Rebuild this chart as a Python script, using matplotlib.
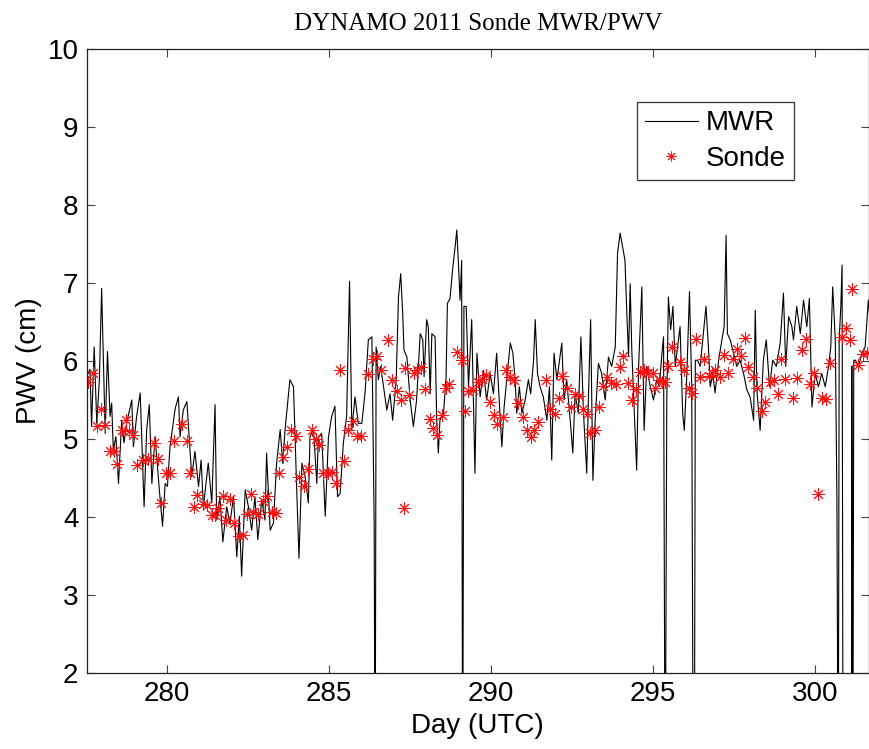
import matplotlib
matplotlib.use("Agg")
import matplotlib.pyplot as plt
import numpy as np

plt.rcParams['font.family'] = ['Liberation Sans', 'DejaVu Sans']

# ---------------- data ----------------
mwr_day = [
    277.53, 277.63, 277.68, 277.76, 277.84, 277.92, 277.99, 278.10, 278.17, 278.25,
    278.30, 278.35, 278.43, 278.51, 278.61, 278.68, 278.76, 278.92, 278.97, 279.07,
    279.18, 279.30, 279.38, 279.46, 279.54, 279.64, 279.77, 279.87, 279.95, 280.02,
    280.10, 280.26, 280.36, 280.41, 280.51, 280.62, 280.77, 280.87, 280.98, 281.06,
    281.13, 281.28, 281.39, 281.49, 281.54, 281.64, 281.73, 281.85, 281.95, 282.06,
    282.16, 282.24, 282.31, 282.42, 282.52, 282.62, 282.72, 282.81, 282.93, 283.03,
    283.08, 283.19, 283.29, 283.39, 283.50, 283.58, 283.65, 283.80, 283.91, 283.96,
    284.01, 284.08, 284.17, 284.27, 284.37, 284.42, 284.53, 284.63, 284.68, 284.78,
    284.89, 284.99, 285.09, 285.19, 285.27, 285.35, 285.45, 285.55, 285.64, 285.71,
    285.81, 285.91, 286.02, 286.12, 286.22, 286.33, 286.40, 286.43, 286.46, 286.53,
    286.60, 286.69, 286.79, 286.89, 286.97, 287.08, 287.15, 287.22, 287.28, 287.32,
    287.41, 287.51, 287.61, 287.71, 287.82, 287.90, 287.94, 288.02, 288.07, 288.13,
    288.18, 288.28, 288.33, 288.38, 288.43, 288.54, 288.62, 288.66, 288.74, 288.83,
    288.90, 288.95, 289.00, 289.05, 289.10, 289.13, 289.17, 289.24, 289.31, 289.41,
    289.51, 289.57, 289.67, 289.77, 289.87, 289.98, 290.08, 290.18, 290.27, 290.34,
    290.41, 290.49, 290.60, 290.68, 290.75, 290.80, 290.88, 290.96, 291.06, 291.16,
    291.23, 291.32, 291.37, 291.44, 291.52, 291.62, 291.73, 291.81, 291.88, 291.95,
    292.04, 292.19, 292.26, 292.34, 292.45, 292.53, 292.60, 292.70, 292.78, 292.86,
    292.96, 293.01, 293.08, 293.15, 293.22, 293.32, 293.42, 293.53, 293.63, 293.73,
    293.84, 293.91, 293.99, 294.14, 294.20, 294.25, 294.30, 294.35, 294.45, 294.50,
    294.56, 294.66, 294.73, 294.81, 294.92, 295.02, 295.12, 295.20, 295.28, 295.33,
    295.38, 295.43, 295.48, 295.55, 295.62, 295.69, 295.79, 295.84, 295.92, 295.97,
    296.05, 296.13, 296.20, 296.25, 296.28, 296.31, 296.38, 296.46, 296.54, 296.64,
    296.72, 296.77, 296.85, 296.92, 297.03, 297.13, 297.20, 297.26, 297.30, 297.39,
    297.49, 297.59, 297.69, 297.80, 297.90, 298.00, 298.11, 298.16, 298.21, 298.31,
    298.41, 298.50, 298.60, 298.70, 298.81, 298.93, 299.03, 299.10, 299.19, 299.29,
    299.34, 299.44, 299.55, 299.65, 299.75, 299.83, 299.91, 300.01, 300.11, 300.21,
    300.32, 300.42, 300.49, 300.55, 300.63, 300.68, 300.72, 300.75, 300.80, 300.84,
    300.87, 301.13, 301.14, 301.17, 301.20, 301.25, 301.35, 301.45, 301.55, 301.65,
    301.72,
]
mwr_pwv = [
    5.80, 5.89, 5.16, 6.18, 5.20, 5.76, 6.93, 5.07, 6.12, 5.29,
    5.46, 4.86, 5.03, 4.43, 5.24, 4.95, 5.20, 5.50, 4.90, 5.29,
    5.59, 4.13, 5.12, 5.44, 4.43, 5.03, 4.35, 3.88, 4.43, 4.39,
    4.90, 5.39, 5.54, 5.03, 5.37, 5.48, 4.52, 4.84, 4.39, 4.73,
    4.13, 4.69, 4.18, 5.44, 3.96, 4.26, 3.68, 4.13, 3.92, 4.26,
    3.49, 4.01, 3.24, 4.35, 4.13, 3.83, 4.26, 3.71, 4.22, 3.96,
    4.82, 3.83, 3.92, 4.69, 5.12, 4.69, 5.12, 5.76, 5.67, 4.99,
    4.35, 3.47, 4.69, 4.52, 4.18, 5.03, 5.12, 4.43, 5.03, 5.07,
    4.01, 5.03, 5.29, 5.42, 4.26, 4.30, 4.95, 5.29, 7.02, 5.12,
    5.54, 5.20, 5.20, 5.60, 6.27, 6.31, 3.92, 0.00, 6.18, 5.76,
    5.93, 5.67, 5.37, 5.58, 5.24, 5.76, 6.82, 7.12, 6.61, 6.14,
    6.05, 5.50, 5.16, 5.50, 6.35, 6.27, 5.80, 6.53, 6.44, 5.58,
    6.35, 6.31, 5.24, 4.82, 5.24, 5.33, 5.80, 6.74, 6.80, 7.21,
    7.47, 7.68, 7.25, 6.78, 7.29, 0.00, 6.70, 6.70, 5.67, 6.53,
    4.56, 6.10, 5.54, 5.88, 5.50, 5.84, 5.58, 6.10, 5.41, 4.90,
    5.41, 5.76, 6.23, 6.10, 5.76, 5.33, 5.67, 5.33, 5.50, 5.76,
    5.58, 6.01, 6.53, 5.84, 5.67, 5.54, 5.24, 5.67, 4.73, 6.10,
    5.76, 6.23, 5.50, 5.76, 5.24, 4.82, 5.58, 5.33, 6.31, 5.33,
    4.56, 5.50, 6.53, 4.47, 5.24, 5.97, 5.84, 5.50, 6.05, 5.93,
    6.18, 7.38, 7.64, 7.29, 6.57, 6.06, 6.99, 6.14, 5.11, 4.60,
    5.93, 6.95, 5.11, 5.93, 5.67, 5.50, 5.76, 5.67, 6.10, 6.31,
    0.00, 5.50, 6.82, 6.40, 6.70, 5.93, 6.27, 6.44, 5.33, 5.11,
    5.84, 6.89, 5.67, 0.00, 0.00, 6.01, 6.01, 5.93, 6.27, 6.70,
    6.14, 5.67, 5.84, 5.59, 6.01, 6.27, 6.44, 7.61, 6.35, 6.27,
    6.10, 5.93, 6.01, 5.84, 5.63, 5.54, 5.24, 6.65, 5.63, 5.11,
    6.01, 6.27, 5.67, 6.01, 5.93, 6.23, 6.87, 5.93, 6.57, 6.44,
    6.27, 6.70, 6.35, 6.78, 6.44, 6.80, 5.41, 5.84, 5.67, 5.84,
    5.67, 5.93, 6.18, 6.95, 6.27, 4.22, 0.00, 6.27, 6.70, 7.23,
    0.00, 0.00, 5.93, 0.00, 6.01, 6.01, 5.93, 6.10, 6.18, 6.78,
    6.44,
]

sonde_day = [
    277.58, 277.73, 277.84, 277.96, 278.09, 278.25, 278.37, 278.47, 278.61, 278.73,
    278.84, 278.97, 279.09, 279.26, 279.43, 279.61, 279.74, 279.82, 279.98, 280.10,
    280.23, 280.46, 280.62, 280.72, 280.84, 280.94, 281.11, 281.23, 281.39, 281.49,
    281.59, 281.73, 281.83, 281.95, 282.08, 282.24, 282.36, 282.47, 282.60, 282.67,
    282.83, 282.96, 283.10, 283.24, 283.36, 283.47, 283.60, 283.72, 283.83, 283.98,
    284.09, 284.24, 284.35, 284.47, 284.61, 284.71, 284.83, 284.96, 285.11, 285.22,
    285.35, 285.47, 285.60, 285.74, 285.86, 285.99, 286.22, 286.36, 286.48, 286.60,
    286.84, 286.96, 287.10, 287.22, 287.32, 287.35, 287.49, 287.63, 287.73, 287.84,
    287.97, 288.11, 288.23, 288.35, 288.49, 288.62, 288.72, 288.97, 289.10, 289.21,
    289.31, 289.46, 289.59, 289.72, 289.86, 289.98, 290.10, 290.20, 290.37, 290.47,
    290.60, 290.72, 290.85, 290.99, 291.11, 291.23, 291.34, 291.47, 291.71, 291.83,
    291.98, 292.09, 292.19, 292.35, 292.47, 292.60, 292.73, 292.84, 292.96, 293.06,
    293.20, 293.34, 293.47, 293.60, 293.70, 293.87, 293.99, 294.09, 294.22, 294.35,
    294.48, 294.59, 294.73, 294.86, 294.99, 295.07, 295.20, 295.28, 295.36, 295.48,
    295.59, 295.84, 295.97, 296.10, 296.20, 296.34, 296.46, 296.59, 296.72, 296.82,
    296.92, 297.08, 297.20, 297.33, 297.47, 297.59, 297.71, 297.85, 297.95, 298.09,
    298.21, 298.36, 298.46, 298.60, 298.74, 298.85, 298.95, 299.08, 299.34, 299.46,
    299.60, 299.73, 299.85, 299.96, 300.09, 300.21, 300.35, 300.47, 300.83, 300.96,
    301.09, 301.14, 301.34, 301.48, 301.60,
]
sonde_pwv = [
    5.73, 5.85, 5.16, 5.38, 5.18, 4.84, 4.85, 4.68, 5.12, 5.24,
    5.10, 5.05, 4.67, 4.73, 4.74, 4.95, 4.74, 4.18, 4.56, 4.57,
    4.97, 5.19, 4.97, 4.57, 4.13, 4.28, 4.17, 4.15, 4.03, 4.03,
    4.11, 4.27, 3.96, 4.23, 3.92, 3.76, 3.77, 4.04, 4.30, 4.06,
    4.04, 4.21, 4.27, 4.06, 4.05, 4.57, 4.77, 4.90, 5.12, 5.04,
    4.51, 4.40, 4.61, 5.12, 5.00, 4.92, 4.56, 4.57, 4.58, 4.44,
    5.88, 4.72, 5.12, 5.23, 5.04, 5.04, 5.83, 6.03, 6.06, 5.88,
    6.27, 5.75, 5.61, 5.50, 4.11, 5.91, 5.56, 5.85, 5.89, 5.92,
    5.64, 5.25, 5.14, 5.05, 5.31, 5.66, 5.71, 6.12, 6.01, 5.36,
    5.61, 5.63, 5.73, 5.77, 5.82, 5.47, 5.31, 5.19, 5.28, 5.89,
    5.79, 5.75, 5.46, 5.28, 5.12, 5.03, 5.12, 5.22, 5.75, 5.39,
    5.32, 5.52, 5.81, 5.66, 5.41, 5.58, 5.55, 5.38, 5.32, 5.08,
    5.12, 5.41, 5.68, 5.80, 5.72, 5.71, 5.92, 6.06, 5.72, 5.50,
    5.64, 5.86, 5.88, 5.85, 5.85, 5.65, 5.75, 5.73, 5.73, 5.94,
    6.18, 5.99, 5.89, 5.66, 5.59, 6.28, 5.79, 6.02, 5.81, 5.84,
    5.88, 5.80, 6.08, 5.84, 6.02, 6.15, 6.06, 6.29, 5.92, 5.79,
    5.65, 5.36, 5.47, 5.73, 5.76, 5.58, 6.02, 5.77, 5.53, 5.78,
    6.14, 6.28, 5.71, 5.85, 4.30, 5.53, 5.51, 5.97, 6.31, 6.42,
    6.27, 6.92, 5.95, 6.09, 6.10,
]

x_ticks = [280, 285, 290, 295, 300]
y_ticks = [2, 3, 4, 5, 6, 7, 8, 9, 10]

# ---------------- figure ----------------
fig = plt.figure(figsize=(8.69, 7.49), dpi=100)
ax = fig.add_axes([0.0998, 0.1015, 0.9002, 0.8331])

ax.plot(mwr_day, mwr_pwv, color='black', lw=0.8, label='MWR')
ax.plot(sonde_day, sonde_pwv, linestyle='none', marker=(8, 2, 0), ms=9,
        mec='#ff1010', mew=0.7, label='Sonde')

ax.set_xlim(277.53, 301.67)
ax.set_ylim(2, 10)
ax.set_xticks(x_ticks)
ax.set_yticks(y_ticks)
ax.tick_params(direction='in', length=6, width=0.8, color='#444444',
               labelsize=20, top=True, right=True, pad=6)
for s in ax.spines.values():
    s.set_color('#222222')
    s.set_linewidth(0.9)

ax.set_xlabel('Day (UTC)', fontsize=20, labelpad=4)
ax.set_ylabel('PWV (cm)', fontsize=20, labelpad=4)
ax.set_title('DYNAMO 2011 Sonde MWR/PWV', fontsize=18,
             family=['Liberation Serif', 'DejaVu Serif'], pad=14)

leg = ax.legend(loc='upper left', bbox_to_anchor=(0.703, 0.915), fontsize=20,
                frameon=True, fancybox=False, shadow=False, borderpad=0.3,
                labelspacing=0.35, handlelength=1.9, handletextpad=0.3,
                borderaxespad=0)
leg.get_frame().set_edgecolor('#333333')
leg.get_frame().set_linewidth(0.9)
leg.get_frame().set_alpha(1)
leg.legend_handles[1].set_markersize(7)

fig.savefig('out.png', dpi=100)
